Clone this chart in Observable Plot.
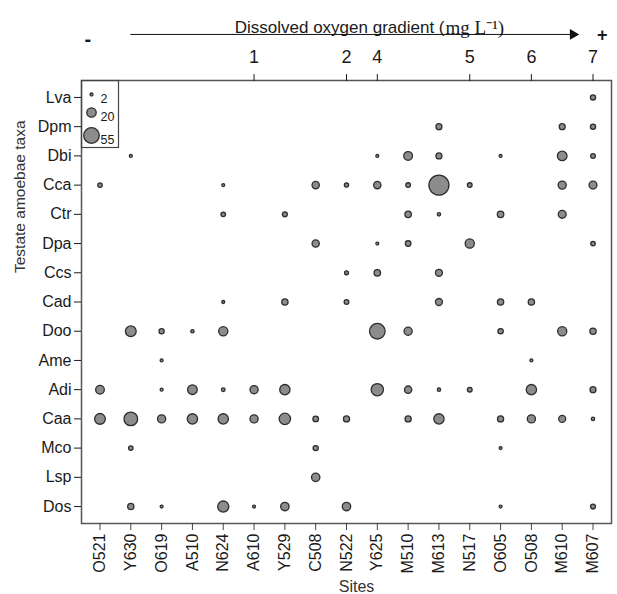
<!DOCTYPE html>
<html><head><meta charset="utf-8">
<script src="https://cdn.jsdelivr.net/npm/d3@7"></script>
<script src="https://cdn.jsdelivr.net/npm/@observablehq/plot@0.6"></script>
<style>body{margin:0;background:#fff;} svg{display:block;}</style>
</head><body><div id="chart"></div>
<script>
const sites = ["O521","Y630","O619","A510","N624","A610","Y529","C508","N522","Y625","M510","M613","N517","O605","O508","M610","M607"];
const taxa = ["Lva","Dpm","Dbi","Cca","Ctr","Dpa","Ccs","Cad","Doo","Ame","Adi","Caa","Mco","Lsp","Dos"];
//            O521 Y630 O619 A510 N624 A610 Y529 C508 N522 Y625 M510 M613 N517 O605 O508 M610 M607
const Lva = [  0,   0,   0,   0,   0,   0,   0,   0,   0,   0,   0,   0,   0,   0,   0,   0,   6];
const Dpm = [  0,   0,   0,   0,   0,   0,   0,   0,   0,   0,   0,   8,   0,   0,   0,   8,   6];
const Dbi = [  0,   2,   0,   0,   0,   0,   0,   0,   0,   2,  17,   8,   0,   2,   0,  21,   5];
const Cca = [4.5,   0,   0,   0,   2,   0,   0,  12,   4,  12,   5,  91,   5,   0,   0,  15,  14];
const Ctr = [  0,   0,   0,   0, 4.5,   0, 5.5,   0,   0,   0, 9.5, 2.5,   0, 9.5,   0,  14,   0];
const Dpa = [  0,   0,   0,   0,   0,   0,   0,  12,   0,   2,   7,   0,  19,   0,   0,   0, 4.5];
const Ccs = [  0,   0,   0,   0,   0,   0,   0,   0, 3.5, 9.5,   0,  11,   0,   0,   0,   0,   0];
const Cad = [  0,   0,   0,   0,   2,   0,   9,   0,   5,   0,   0,  11,   0,   9,   9,   0,   0];
const Doo = [  0,  26,   6, 2.5,  19,   0,   0,   0,   0,  55,  15,   0,   0, 6.5,   0,  19,   9];
const Ame = [  0,   0,   2,   0,   0,   0,   0,   0,   0,   0,   0,   0,   0,   0,   2,   0,   0];
const Adi = [ 17,   0,   2,  21,   3,  15,  24,   0,   0,  34,  12, 2.5,   5,   0,  24,   0,   8];
const Caa = [ 26,  42,  15,  24,  24,  15,  29,   7, 8.5,   0, 8.5,  24,   0, 8.5,  15,  11, 2.5];
const Mco = [  0, 4.5,   0,   0,   0,   0,   0,   6,   0,   0,   0,   0,   0,   2,   0,   0,   0];
const Lsp = [  0,   0,   0,   0,   0,   0,   0,  16,   0,   0,   0,   0,   0,   0,   0,   0,   0];
const Dos = [  0,   9,   2,   0,  28,   2,  16,   0,  16,   0,   0,   0,   0,   2,   0,   0, 5.5];

const doSites = ["A610","N522","Y625","N517","O508","M607"];
const doValues = [1, 2, 4, 5, 6, 7];
const legendValues = [2, 20, 55];

const rows = {Lva, Dpm, Dbi, Cca, Ctr, Dpa, Ccs, Cad, Doo, Ame, Adi, Caa, Mco, Lsp, Dos};
const data = [];
taxa.forEach(t => rows[t].forEach((v, i) => { if (v > 0) data.push({taxon: t, site: sites[i], value: v}); }));

const sans = "'Liberation Sans', Arial, sans-serif";
const serif = "'Liberation Serif', 'Times New Roman', serif";
const fill = "#8c8c8c", stroke = "#2e2e2e";
const legendDy = [14, 32, 55];

const chart = Plot.plot({
  width: 617, height: 594,
  marginTop: 80, marginBottom: 71, marginLeft: 81, marginRight: 6,
  style: {fontFamily: sans, fontSize: "16px", color: "#1a1a1a", background: "#fff"},
  x: {type: "point", domain: sites, padding: 0.6, round: false},
  y: {type: "point", domain: taxa, padding: 0.58, round: false},
  r: {type: "sqrt", domain: [0, 55], range: [0, 7.8]},
  marks: [
    Plot.frame({stroke: "#555", strokeWidth: 1.5}),
    Plot.axisX({anchor: "bottom", tickRotate: -90, tickSize: 7, tickPadding: 3, label: null, fontSize: 16, stroke: "#444"}),
    Plot.axisX(doSites, {anchor: "top", tickFormat: d => String(doValues[doSites.indexOf(d)]), tickSize: 7, tickPadding: 11, label: null, fontSize: 18}),
    Plot.axisY({anchor: "left", tickSize: 7, tickPadding: 3, label: null, fontSize: 16}),
    Plot.text(["Testate amoebae taxa"], {frameAnchor: "left", rotate: -90, dx: -61, dy: -29, fontSize: 15.5, fill: "#333"}),
    Plot.text(["Sites"], {frameAnchor: "bottom", dx: 10, dy: 68, fontSize: 16, fill: "#333"}),
    Plot.text(["Dissolved oxygen gradient ("], {frameAnchor: "top", dx: 98, dy: -60, textAnchor: "end", fontSize: 17}),
    Plot.text(["mg L\u207B\u00B9)"], {frameAnchor: "top", dx: 99, dy: -60, textAnchor: "start", fontSize: 19, fontFamily: serif}),
    Plot.arrow([0], {x1: () => "Y630", x2: () => "M607", y1: () => "Lva", y2: () => "Lva", dy: -63, insetEnd: 18, headLength: 0, stroke: "#111", strokeWidth: 1}),
    Plot.dot([0], {x: () => "M607", y: () => "Lva", dx: -20, dy: -63, symbol: "triangle", rotate: 90, r: 4, fill: "#111", stroke: "none"}),
    Plot.text(["-"], {frameAnchor: "top-left", dx: 3, dy: -49, fontSize: 20, fontWeight: "bold"}),
    Plot.text(["+"], {frameAnchor: "top-right", dx: -4, dy: -52, fontSize: 18, fontWeight: "bold"}),
    Plot.dot(data, {x: "site", y: "taxon", r: "value", fill, stroke, strokeWidth: 1.3}),
    Plot.frame({insetRight: 493, insetBottom: 376, stroke: "#444", strokeWidth: 1.2}),
    ...legendValues.map((v, i) => Plot.dot([v], {r: d => d, frameAnchor: "top-left", dx: 10, dy: legendDy[i], fill, stroke, strokeWidth: 1.3})),
    ...legendValues.map((v, i) => Plot.text([v], {text: d => String(d), frameAnchor: "top-left", dx: 19, dy: legendDy[i], textAnchor: "start", fontSize: 12.5}))
  ]
});
document.getElementById("chart").appendChild(chart);
</script>
</body></html>
